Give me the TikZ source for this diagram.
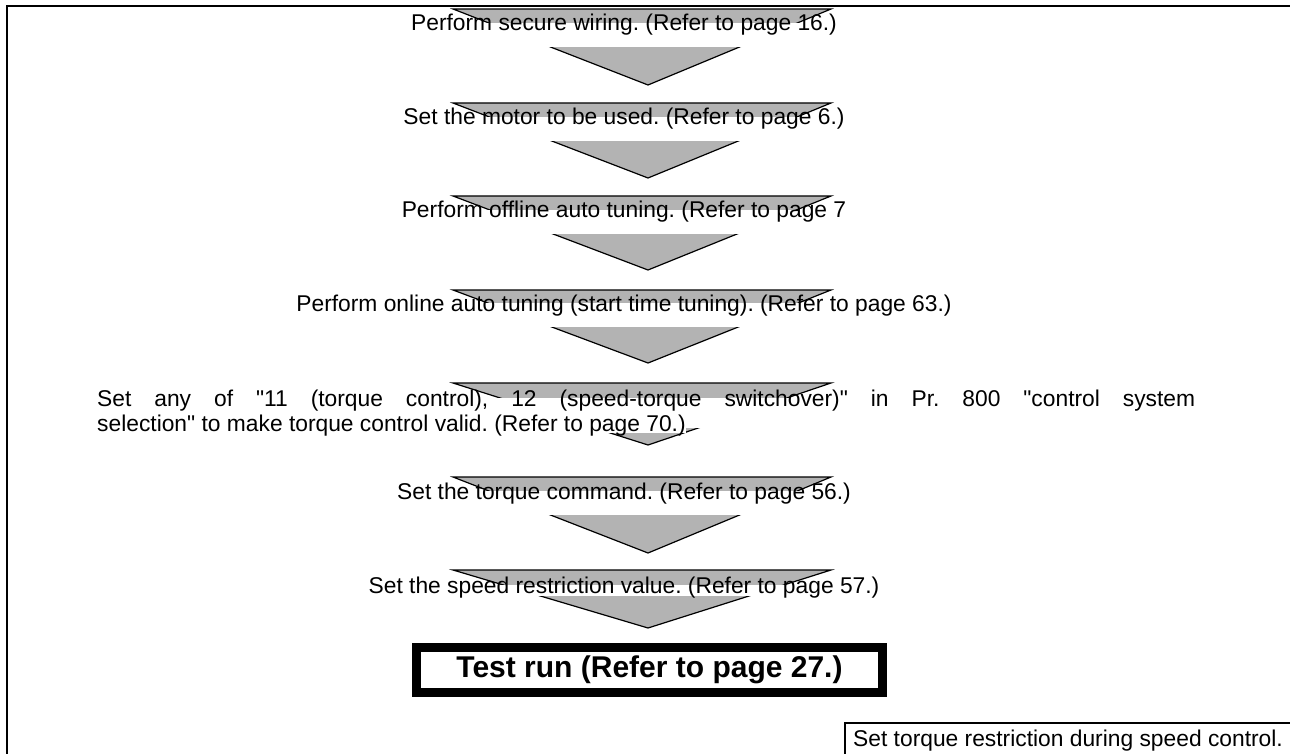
\documentclass[tikz,border=0pt]{standalone}
\usepackage{fontspec}
\setmainfont{Liberation Sans}
\newfontfamily\arial{Liberation Sans}
\definecolor{chev}{RGB}{179,179,179}
\newcommand\mychev[2]{\draw[chevron] (453,#1) -- (831,#1) -- (648,#2) -- cycle;}
\begin{document}
\frenchspacing
\begin{tikzpicture}[x=1pt,y=-1pt,
  chevron/.style={fill=chev,draw=black,line width=1.2pt,line join=miter},
  steptext/.style={font=\arial\fontsize{22.8}{26}\selectfont,fill=white,inner xsep=0pt,inner ysep=0pt,text height=8pt,text depth=16pt,anchor=base},
  frameline/.style={line width=2.2pt},
  testbox/.style={draw,line width=9pt,minimum width=466pt,minimum height=45pt,inner sep=0pt,font=\arial\bfseries\fontsize{30}{30}\selectfont},
  notebox/.style={line width=1.5pt}]
\useasboundingbox (0,0) rectangle (1290,754);
\draw[frameline] (7,756) -- (7,6) -- (1292,6);

\mychev{9}{85}
\node[steptext] (s1) at (624,31) {Perform secure wiring. (Refer to page 16.)};
\mychev{103}{178}
\node[steptext] (s2) at (624,125) {Set the motor to be used. (Refer to page 6.)};
\mychev{196}{270}
\node[steptext] (s3) at (624,218) {Perform offline auto tuning. (Refer to page 7};
\mychev{290}{363}
\node[steptext] (s4) at (624,311) {Perform online auto tuning (start time tuning). (Refer to page 63.)};
\mychev{383}{445}
\node[steptext,anchor=base west,text depth=22pt] (s5a) at (97,406) {\makebox[1098pt][s]{Set any of "11 (torque control), 12 (speed-torque switchover)" in Pr. 800 "control system}};
\node[steptext,anchor=base west,text depth=2pt] (s5b) at (97,431) {selection" to make torque control valid. (Refer to page 70.)};
\mychev{477}{553}
\node[steptext] (s6) at (624,499) {Set the torque command. (Refer to page 56.)};
\mychev{570}{628}
\node[steptext,text depth=3pt] (s7) at (624,593) {Set the speed restriction value. (Refer to page 57.)};

\node[testbox] (tr) at (649.5,670) {Test run (Refer to page 27.)};

\draw[notebox] (845,757) |- (1293,723);
\node[font=\arial\fontsize{22.8}{26}\selectfont,anchor=base west,inner sep=0pt] (note) at (853,746) {Set torque restriction during speed control.};
\end{tikzpicture}
\end{document}
